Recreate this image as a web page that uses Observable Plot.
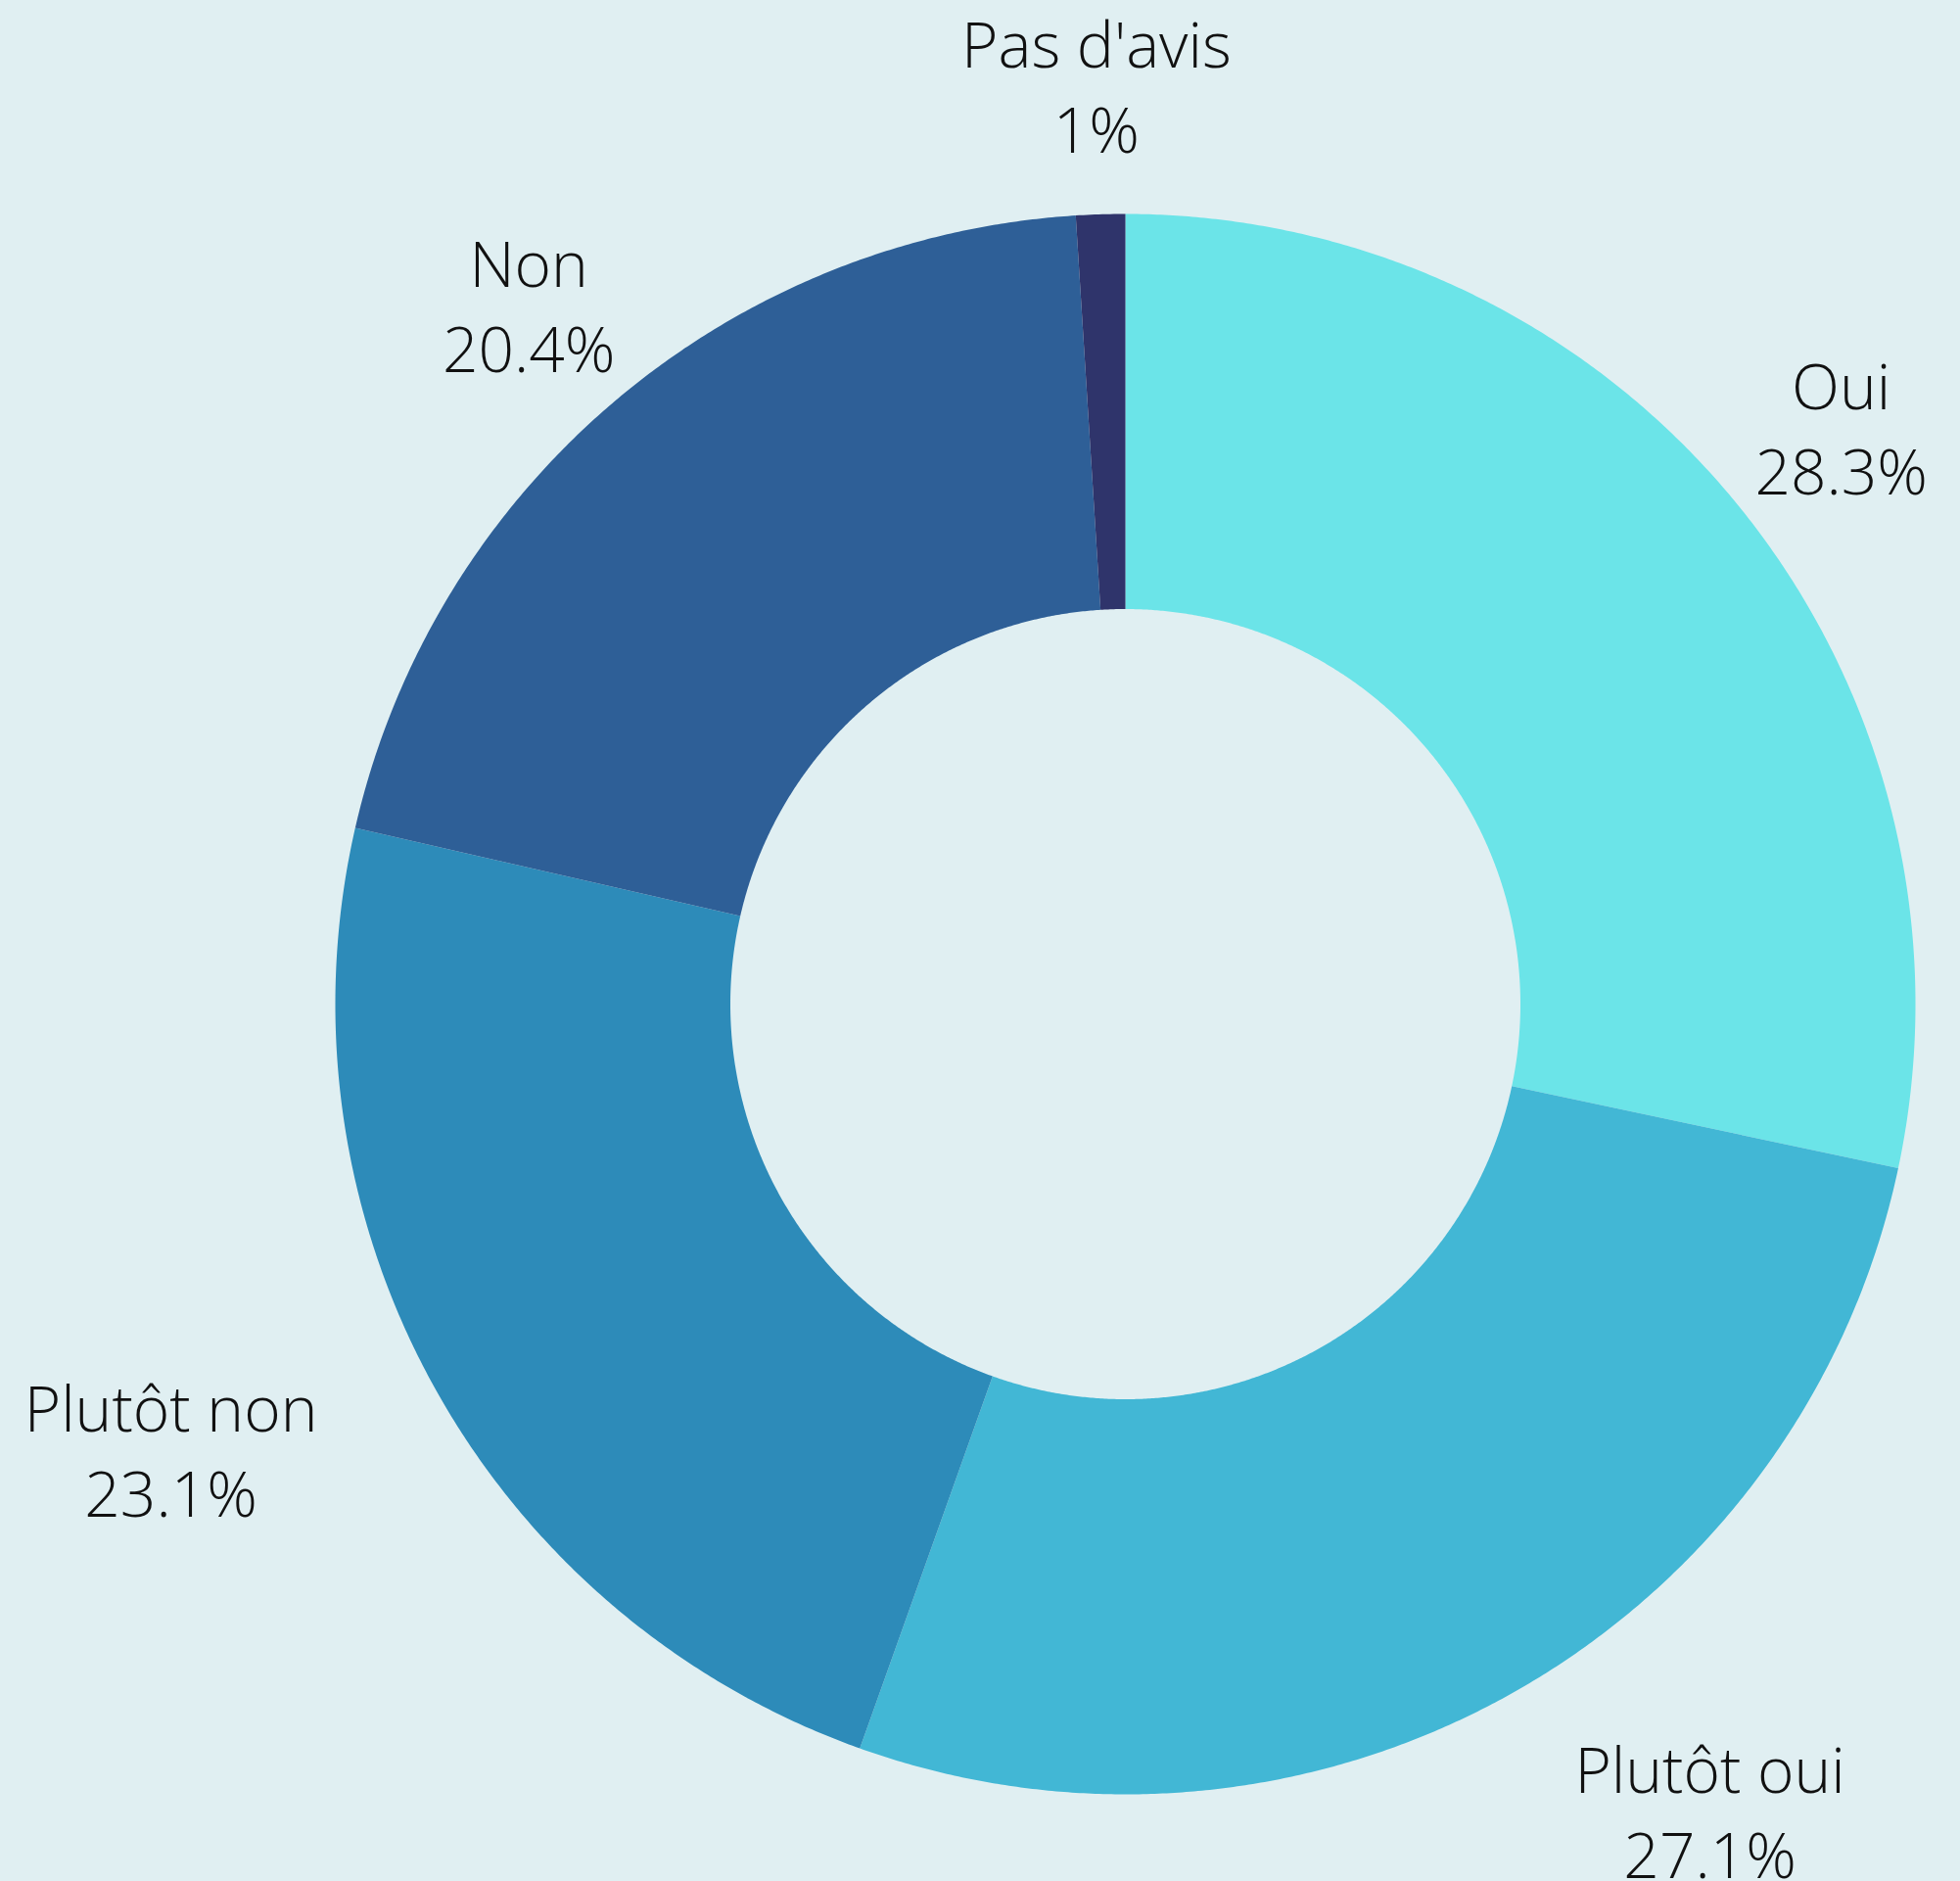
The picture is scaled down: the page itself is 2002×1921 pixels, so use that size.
<!DOCTYPE html>
<html>
<head>
<meta charset="utf-8">
<script src="https://cdn.jsdelivr.net/npm/d3@7"></script>
<script src="https://cdn.jsdelivr.net/npm/@observablehq/plot@0.6"></script>
<style>
  html, body { margin: 0; padding: 0; background: #e0eff2; }
  #chart svg { display: block; }
</style>
</head>
<body>
<div id="chart"></div>
<script>
// ---- data ----
const categories = ["Oui", "Plutôt oui", "Plutôt non", "Non", "Pas d'avis"];
const values = [28.3, 27.1, 23.1, 20.4, 1];
const colors = ["#6be4e8", "#42b7d5", "#2d8bb9", "#2e5f97", "#2f346b"];

// ---- layout ----
const W = 2002, H = 1921;
const cx = 1149, cy = 1025, R = 807;   // pixel centre and outer radius
const innerRatio = 0.5;
const labelRatio = 1.166;
const fontSize = 64;
const fontCss = `300 ${fontSize}px 'Open Sans', sans-serif`;

const table = categories.map((c, i) => ({category: c, value: values[i]}));
const arcs = d3.pie().sort(null).value(d => d.value)(table);

// polygon outline for each slice in unit-radius coordinates
const outline = [];
for (const a of arcs) {
  const n = Math.max(4, Math.ceil((a.endAngle - a.startAngle) / 0.005));
  for (let k = 0; k <= n; k++) {
    const t = a.startAngle + (a.endAngle - a.startAngle) * k / n;
    outline.push({category: a.data.category, x: Math.sin(t), y: Math.cos(t)});
  }
  for (let k = n; k >= 0; k--) {
    const t = a.startAngle + (a.endAngle - a.startAngle) * k / n;
    outline.push({category: a.data.category, x: innerRatio * Math.sin(t), y: innerRatio * Math.cos(t)});
  }
}

// measure label widths so lines can be centred within a side-anchored block
const ctx = document.createElement("canvas").getContext("2d");
ctx.font = fontCss;
const labels = arcs.map(a => {
  const m = (a.startAngle + a.endAngle) / 2;
  const s = Math.sin(m), c = Math.cos(m);
  const lines = [a.data.category, `${a.data.value}%`];
  const w = Math.max(...lines.map(l => ctx.measureText(l).width)) / R; // in unit-radius
  const shift = c >= 0 ? 0 : (s > 0 ? w / 2 : -w / 2);
  return {text: lines.join("\n"), x: labelRatio * s + shift, y: labelRatio * c};
});

const chart = Plot.plot({
  width: W, height: H,
  margin: 0,
  style: {background: "#e0eff2", fontFamily: "'Open Sans', sans-serif"},
  x: {domain: [-cx / R, (W - cx) / R], range: [0, W], axis: null},
  y: {domain: [-(H - cy) / R, cy / R], range: [H, 0], axis: null},
  color: {domain: categories, range: colors},
  marks: [
    Plot.line(outline, {x: "x", y: "y", z: "category", fill: "category", stroke: "none", curve: "linear-closed"}),
    Plot.text(labels, {
      x: "x", y: "y", text: "text",
      fontSize, fontWeight: 300, lineHeight: 1.36, lineAnchor: "middle",
      textAnchor: "middle", fill: "#111111"
    })
  ]
});
document.getElementById("chart").appendChild(chart);
</script>
</body>
</html>
